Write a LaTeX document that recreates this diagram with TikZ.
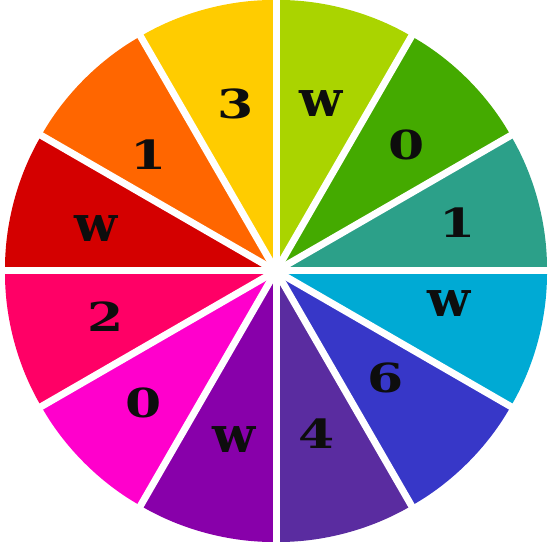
\documentclass[tikz,border=0pt]{standalone}
\usepackage{fontspec}
\usepackage{tikz}
\usetikzlibrary{calc}

\newfontfamily\wheelfont{DejaVu Serif}[FakeStretch=1.3]
\newfontfamily\wheelwfont{DejaVu Serif}
\newcommand\wheelw{{\wheelwfont\bfseries\fontsize{50}{50}\selectfont w}}

\definecolor{wheelYellow}{HTML}{FFCC00}
\definecolor{wheelLime}{HTML}{AAD400}
\definecolor{wheelGreen}{HTML}{44AA00}
\definecolor{wheelTeal}{HTML}{2CA089}
\definecolor{wheelCyan}{HTML}{00AAD4}
\definecolor{wheelBlue}{HTML}{3737C8}
\definecolor{wheelPurple}{HTML}{5A2CA0}
\definecolor{wheelViolet}{HTML}{8800AA}
\definecolor{wheelMagenta}{HTML}{FF00CC}
\definecolor{wheelPink}{HTML}{FF0066}
\definecolor{wheelRed}{HTML}{D40000}
\definecolor{wheelOrange}{HTML}{FF6600}

\tikzset{
  sector/.style={rounded corners=3pt},
  gap/.style={white, line width=7pt},
  glyph/.style={text=black!95, font=\wheelfont\bfseries\fontsize{40}{40}\selectfont, inner sep=0pt}
}

\begin{document}
\begin{tikzpicture}[x=1pt,y=1pt]
\useasboundingbox (0,0) rectangle (548,548);
\coordinate (c) at (276,277);

    % Coloured sectors, counterclockwise from the right
    \foreach \a/\col in {0/wheelTeal,30/wheelGreen,60/wheelLime,90/wheelYellow,
      120/wheelOrange,150/wheelRed,180/wheelPink,210/wheelMagenta,
      240/wheelViolet,270/wheelPurple,300/wheelBlue,330/wheelCyan}
      \fill[sector, \col] (c) -- ++(\a:271) arc (\a:\a+30:271) -- cycle;

    % White gaps between the sectors
    \foreach \a in {0,30,...,330}
      \draw[gap] (c) -- ++(\a:276);

    % Letters and digits
    \foreach \n/\a/\r/\t in {tTeal/15/188/1, tGreen/44/182/0, tLime/75/173/\wheelw,
      tYellow/103.5/172/3, tOrange/137.6/172/1, tRed/166.6/185/\wheelw,
      tPink/-165/176/2, tMagenta/-135/187/0, tViolet/-104/174/\wheelw,
      tPurple/-76/168/4, tBlue/-44.5/153/6, tCyan/-10.8/176/\wheelw}
      \node[glyph] (\n) at ($(c)+(\a:\r)$) {\t};

\end{tikzpicture}
\end{document}
